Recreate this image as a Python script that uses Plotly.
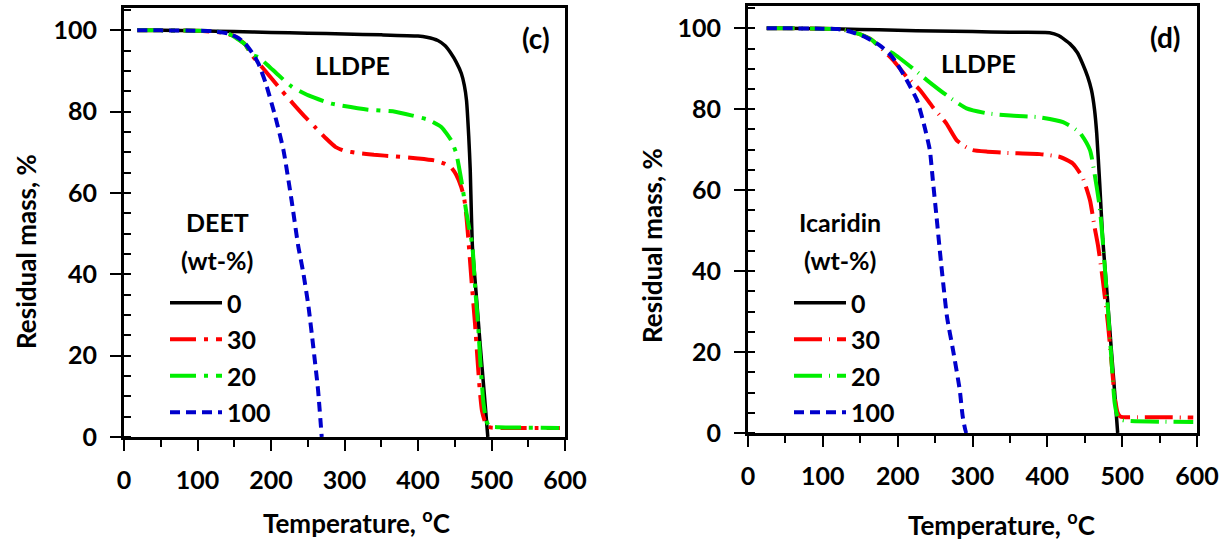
import plotly.graph_objects as go

# ---------------- data (panel c: DEET) ----------------
c_T0 = [18, 50, 100, 150, 200, 250, 300, 350, 400, 412, 427, 437, 445, 452, 459, 463, 466, 469, 471, 474, 479, 484, 490, 495]
c_M0 = [100, 100, 99.9, 99.7, 99.5, 99.3, 99.1, 98.9, 98.6, 98.3, 97.5, 96.2, 94.3, 92.2, 89.4, 86.5, 82.8, 74, 66, 47, 35.5, 24, 11, 0]

c_T30 = [18, 50, 100, 130, 150, 165, 174, 190, 214, 230, 245, 260, 275, 288, 300, 319, 340, 369, 400, 423, 435, 445, 452, 459, 463, 466, 469, 473, 477.5, 481, 484, 487, 491, 495, 500, 540, 593]
c_M30 = [100, 100, 99.9, 99.5, 98.6, 96.5, 93.9, 90.5, 85.3, 82, 79, 76.2, 73.4, 71.3, 70.4, 69.8, 69.4, 69, 68.5, 68, 67.3, 66.3, 64.5, 61.4, 58.5, 54, 47.5, 38, 28, 19, 11.6, 6.5, 3.8, 2.6, 2.3, 2.2, 2.2]

c_T20 = [18, 50, 100, 120, 142, 165, 174, 183, 197, 210, 228, 251, 282, 332, 369, 391, 414, 432, 445, 452, 459, 466, 470, 474, 478, 481.6, 485, 489, 493, 497, 510, 550, 592]
c_M20 = [100, 100, 99.9, 99.8, 99.2, 96.5, 94, 93.4, 91.2, 89, 86.2, 84, 82, 80.5, 80, 79.1, 78, 76.2, 73, 69.8, 63.1, 55, 51, 47, 36, 28, 18, 8.4, 4, 2.6, 2.4, 2.3, 2.2]

c_T100 = [18, 50, 100, 120, 142, 155, 165, 175, 183, 193, 206, 217, 228, 237, 244, 251, 257.5, 264, 269]
c_M100 = [100, 100, 99.9, 99.8, 99.2, 98.2, 96.7, 94.3, 91.8, 86.9, 78.7, 70.5, 58.2, 47, 40.3, 32.1, 22.2, 11.6, 0]

# ---------------- data (panel d: Icaridin) ----------------
d_T0 = [25, 50, 100, 150, 200, 250, 300, 350, 403, 415, 430, 440, 447, 454, 459, 463, 466, 470, 474, 480, 486, 490, 494]
d_M0 = [100, 100, 99.9, 99.7, 99.5, 99.3, 99.2, 99.0, 98.9, 98.2, 96.2, 94, 91.3, 88, 84.7, 80, 74, 61.6, 48, 34, 19.5, 10, 0]

d_T30 = [25, 50, 100, 120, 136, 150, 165, 176, 194, 212, 230, 247, 265, 279, 290, 300, 320, 346, 390, 417, 434, 447, 457, 463, 468, 474, 481, 486, 490, 494, 498, 520, 560, 595]
d_M30 = [100, 100, 99.9, 99.8, 99.3, 98.5, 97.2, 95.4, 92.1, 88, 84.7, 80.5, 76.5, 72.3, 70.8, 69.9, 69.5, 69.2, 68.9, 68.2, 66.6, 63.2, 57.5, 51, 46, 38, 27, 17, 9, 5, 4, 3.9, 3.9, 3.8]

d_T20 = [25, 50, 100, 120, 136, 150, 165, 176, 194, 220, 239, 265, 292, 319, 346, 390, 421, 443, 457, 463, 470, 474, 480, 485, 490, 494, 500, 510, 550, 595]
d_M20 = [100, 100, 99.9, 99.8, 99.3, 98.5, 97.2, 95.4, 93.8, 90.1, 87.2, 83.5, 80.2, 79, 78.5, 78, 76.8, 74.3, 69.9, 64.2, 55.8, 47.6, 33, 20, 7.4, 4, 3.2, 3.0, 2.8, 2.7]

d_T100 = [25, 50, 100, 120, 136, 155, 176, 190, 199, 212, 226, 236, 243, 247, 252, 258, 266, 274, 283, 287, 292, 300]
d_M100 = [100, 100, 99.9, 99.8, 99.2, 98, 95.8, 93.5, 91.3, 87.2, 82.2, 75.6, 69.9, 62.5, 53.3, 42, 28.6, 20.5, 10.6, 4, 0, 0]

series_names = ["0", "30", "20", "100"]
x_ticks = [0, 100, 200, 300, 400, 500, 600]
y_ticks = [0, 20, 40, 60, 80, 100]

# ---------------- layout geometry ----------------
W, H = 1227, 542
FONT = "Lato"
BLACK = "#000000"
RED = "#FF0000"
GREEN = "#00EE00"
BLUE = "#0000CC"

def fx(p):
    return p / W

def fy(p):
    return 1 - p / H

fig = go.Figure()

styles_c = [
    dict(color=BLACK, width=3.5, dash="solid"),
    dict(color=RED, width=4, dash="26px,8px,4px,8px"),
    dict(color=GREEN, width=4, dash="26px,8px,4px,8px"),
    dict(color=BLUE, width=4, dash="10px,6px"),
]
styles_d = [
    dict(color=BLACK, width=3.5, dash="solid"),
    dict(color=RED, width=4, dash="28px,7px,1px,7px"),
    dict(color=GREEN, width=4, dash="28px,7px,1px,7px"),
    dict(color=BLUE, width=4, dash="10px,6px"),
]

c_data = [(c_T0, c_M0), (c_T30, c_M30), (c_T20, c_M20), (c_T100, c_M100)]
d_data = [(d_T0, d_M0), (d_T30, d_M30), (d_T20, d_M20), (d_T100, d_M100)]

for i, ((t, m), st) in enumerate(zip(c_data, styles_c)):
    fig.add_trace(go.Scatter(x=t, y=m, mode="lines", name=series_names[i],
                             line=dict(shape="spline", smoothing=0.5, **st),
                             xaxis="x", yaxis="y", legend="legend",
                             legendgroup="c" + str(i)))
for i, ((t, m), st) in enumerate(zip(d_data, styles_d)):
    fig.add_trace(go.Scatter(x=t, y=m, mode="lines", name=series_names[i],
                             line=dict(shape="spline", smoothing=0.5, **st),
                             xaxis="x2", yaxis="y2", legend="legend2",
                             legendgroup="d" + str(i)))

tickfont = dict(family=FONT, size=25, color=BLACK, weight="bold")

def xaxis_cfg(domain, anchor):
    return dict(domain=domain, anchor=anchor, range=[0, 600], automargin=False,
                tickmode="array", tickvals=x_ticks,
                ticks="outside", ticklen=11, tickwidth=2, tickcolor=BLACK,
                minor=dict(dtick=50, ticks="outside", ticklen=7, tickwidth=2, tickcolor=BLACK),
                showline=True, linewidth=3, linecolor=BLACK, mirror=True,
                showgrid=False, zeroline=False, tickfont=tickfont,
                ticklabelstandoff=8)

def yaxis_cfg(domain, anchor):
    return dict(domain=domain, anchor=anchor, range=[0, 105.5], automargin=False,
                tickmode="array", tickvals=y_ticks,
                ticks="outside", ticklen=11, tickwidth=2, tickcolor=BLACK,
                minor=dict(dtick=5, ticks="inside", ticklen=7, tickwidth=2, tickcolor=BLACK),
                showline=True, linewidth=3, linecolor=BLACK, mirror=True,
                showgrid=False, zeroline=False, tickfont=tickfont,
                ticklabelstandoff=8)

def x_over(over, anchor):
    return dict(overlaying=over, anchor=anchor, range=[0, 600], tickmode="array",
                tickvals=x_ticks, ticks="inside", ticklen=7, tickwidth=2,
                tickcolor=BLACK, showticklabels=False, showgrid=False,
                zeroline=False, showline=False, automargin=False)

def y_over(over, anchor):
    return dict(overlaying=over, anchor=anchor, range=[0, 105.5], tickmode="array",
                tickvals=y_ticks, ticks="inside", ticklen=7, tickwidth=2,
                tickcolor=BLACK, showticklabels=False, showgrid=False,
                zeroline=False, showline=False, automargin=False)

xd1 = [fx(124), fx(565)]
yd1 = [fy(437), fy(8)]
xd2 = [fx(748), fx(1197)]
yd2 = [fy(433), fy(6)]

legfont = dict(family=FONT, size=25, color=BLACK, weight="bold")

fig.update_layout(
    template="none",
    width=W, height=H,
    margin=dict(l=0, r=0, t=0, b=0, pad=0, autoexpand=False),
    paper_bgcolor="white", plot_bgcolor="white",
    xaxis=xaxis_cfg(xd1, "y"),
    yaxis=yaxis_cfg(yd1, "x"),
    xaxis2=xaxis_cfg(xd2, "y2"),
    yaxis2=yaxis_cfg(yd2, "x2"),
    xaxis3=x_over("x", "y"),
    yaxis3=y_over("y", "x"),
    xaxis4=x_over("x2", "y2"),
    yaxis4=y_over("y2", "x2"),
    legend=dict(x=fx(165), y=fy(280), xanchor="left", yanchor="top",
                font=legfont, bgcolor="rgba(0,0,0,0)", borderwidth=0,
                tracegroupgap=1, itemwidth=52),
    legend2=dict(x=fx(789), y=fy(280), xanchor="left", yanchor="top",
                 font=legfont, bgcolor="rgba(0,0,0,0)", borderwidth=0,
                 tracegroupgap=1, itemwidth=52),
    showlegend=True,
)

ann_font = dict(family=FONT, size=25, color=BLACK, weight="bold")
lab_font = dict(family=FONT, size=28, color=BLACK, weight="bold")
title_font = dict(family=FONT, size=26, color=BLACK, weight="bold")

def ann(x, y, text, xref="paper", yref="paper", font=ann_font, angle=0):
    return dict(x=x, y=y, xref=xref, yref=yref, text=text, showarrow=False,
                xanchor="center", yanchor="middle", font=font, textangle=angle)

annotations = [
    ann(311, 91.6, "LLDPE", "x", "y"),
    ann(561, 98.2, "(c)", "x", "y", font=lab_font),
    ann(308, 91.3, "LLDPE", "x2", "y2"),
    ann(558, 97.9, "(d)", "x2", "y2", font=lab_font),
    ann(fx(217), fy(222), "DEET"),
    ann(fx(217), fy(260), "(wt-%)"),
    ann(fx(840), fy(222), "Icaridin"),
    ann(fx(840), fy(260), "(wt-%)"),
    ann(fx(26), fy(252), "Residual mass, %", font=title_font, angle=-90),
    ann(fx(652), fy(246), "Residual mass, %", font=title_font, angle=-90),
    ann(fx(356), fy(521), "Temperature, <sup>o</sup>C", font=title_font),
    ann(fx(1001), fy(523), "Temperature, <sup>o</sup>C", font=title_font),
]
fig.update_layout(annotations=annotations)

fig.write_html("out.html")
